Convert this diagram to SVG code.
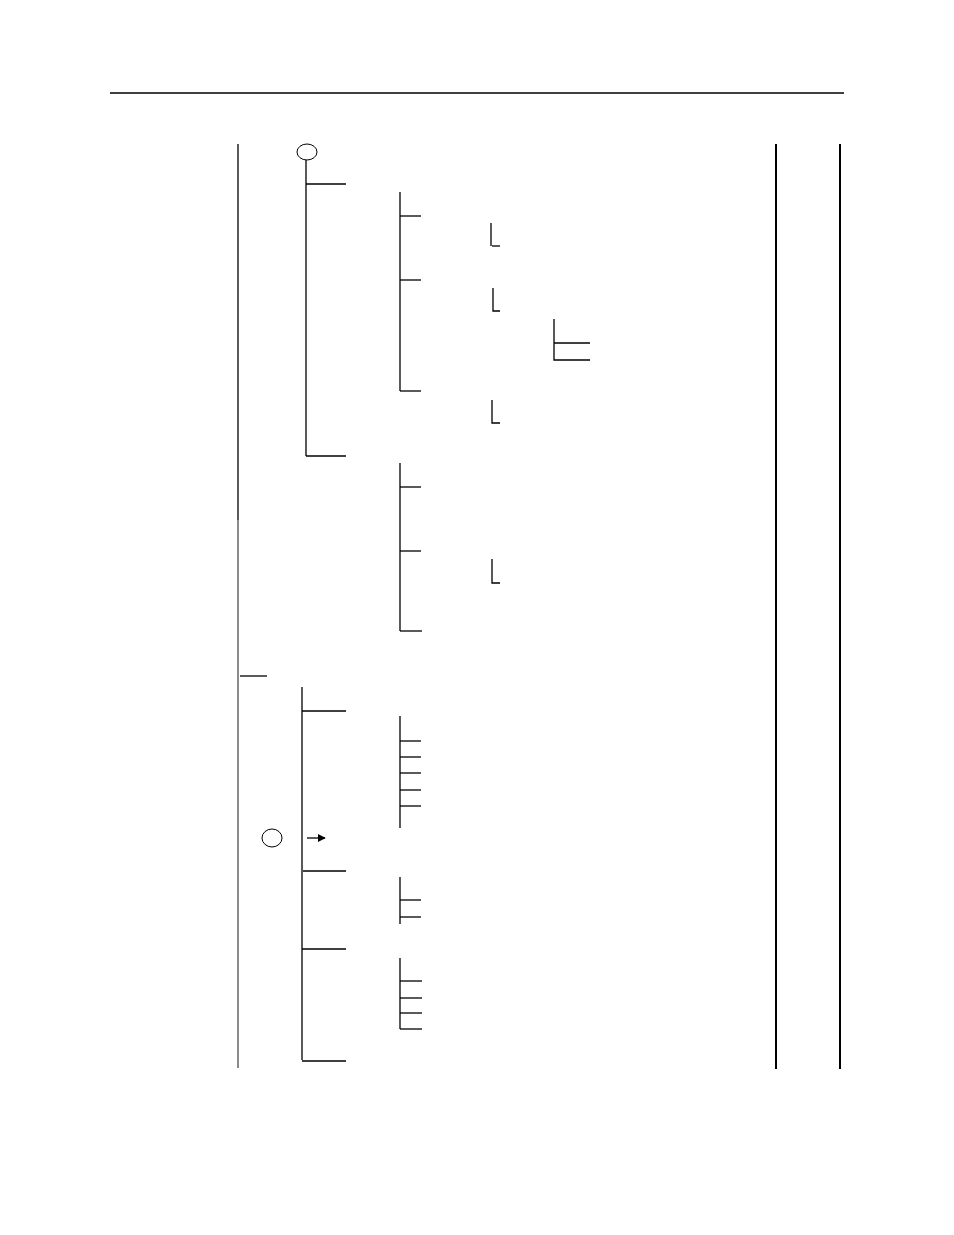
<svg xmlns="http://www.w3.org/2000/svg" width="954" height="1235" viewBox="0 0 954 1235">
<style>
.l{stroke:#000;stroke-width:1.3;fill:none}
.g{stroke:#6e6e6e;stroke-width:1.6;fill:none}
.b{stroke:#000;stroke-width:2;fill:none}
.c{stroke:#000;stroke-width:1;fill:#fff}
</style>
<defs>
<marker id="ah" viewBox="0 0 10 10" refX="9" refY="5" markerWidth="8" markerHeight="8" markerUnits="userSpaceOnUse" orient="auto">
<path d="M0,0L10,5L0,10z" fill="#000"/>
</marker>
</defs>
<rect width="954" height="1235" fill="#fff"/>
<g id="frame">
<line class="l" x1="110" y1="93" x2="844" y2="93"/>
<line class="l" x1="238" y1="144" x2="238" y2="520"/>
<line class="g" x1="238" y1="520" x2="238" y2="1068"/>
<line class="b" x1="776" y1="144" x2="776" y2="1069"/>
<line class="b" x1="840" y1="144" x2="840" y2="1069"/>
</g>
<g id="node-top-circle">
<ellipse class="c" cx="307" cy="152" rx="10" ry="8"/>
</g>
<g id="node-mid-circle">
<ellipse class="c" cx="272" cy="838" rx="10" ry="9"/>
</g>
<g id="connectors">
<line class="l" x1="306" y1="160" x2="306" y2="456"/>
<line class="l" x1="306" y1="184" x2="346" y2="184"/>
<line class="l" x1="306" y1="456" x2="346" y2="456"/>
<line class="l" x1="400" y1="192" x2="400" y2="391"/>
<line class="l" x1="400" y1="216" x2="421" y2="216"/>
<line class="l" x1="400" y1="280" x2="421" y2="280"/>
<line class="l" x1="400" y1="391" x2="421" y2="391"/>
<line class="l" x1="491" y1="223" x2="491" y2="246"/>
<line class="l" x1="492" y1="246" x2="500" y2="246"/>
<polyline class="l" points="493,288 493,311 500,311"/>
<polyline class="l" points="554,319 554,360 590,360"/>
<line class="l" x1="554" y1="343" x2="590" y2="343"/>
<polyline class="l" points="492,400 492,423 500,423"/>
<line class="l" x1="400" y1="463" x2="400" y2="631"/>
<line class="l" x1="400" y1="487" x2="421" y2="487"/>
<line class="l" x1="400" y1="551" x2="421" y2="551"/>
<line class="l" x1="400" y1="631" x2="422" y2="631"/>
<polyline class="l" points="492,559 492,583 500,583"/>
<line class="l" x1="240" y1="676" x2="267" y2="676"/>
<line class="l" x1="302" y1="687" x2="302" y2="1060"/>
<line class="l" x1="302" y1="711" x2="346" y2="711"/>
<line class="l" x1="400" y1="716" x2="400" y2="828"/>
<line class="l" x1="400" y1="741" x2="421" y2="741"/>
<line class="l" x1="400" y1="757" x2="421" y2="757"/>
<line class="l" x1="400" y1="773" x2="421" y2="773"/>
<line class="l" x1="400" y1="790" x2="421" y2="790"/>
<line class="l" x1="400" y1="806" x2="421" y2="806"/>
<line class="l" x1="307" y1="838" x2="325" y2="838" marker-end="url(#ah)"/>
<line class="l" x1="303" y1="871" x2="346" y2="871"/>
<line class="l" x1="400" y1="877" x2="400" y2="924"/>
<line class="l" x1="400" y1="900" x2="421" y2="900"/>
<line class="l" x1="400" y1="917" x2="421" y2="917"/>
<line class="l" x1="302" y1="949" x2="346" y2="949"/>
<line class="l" x1="400" y1="958" x2="400" y2="1029"/>
<line class="l" x1="400" y1="981" x2="422" y2="981"/>
<line class="l" x1="400" y1="998" x2="422" y2="998"/>
<line class="l" x1="400" y1="1013" x2="422" y2="1013"/>
<line class="l" x1="400" y1="1029" x2="422" y2="1029"/>
<line class="l" x1="302" y1="1061" x2="346" y2="1061"/>
</g>
</svg>
